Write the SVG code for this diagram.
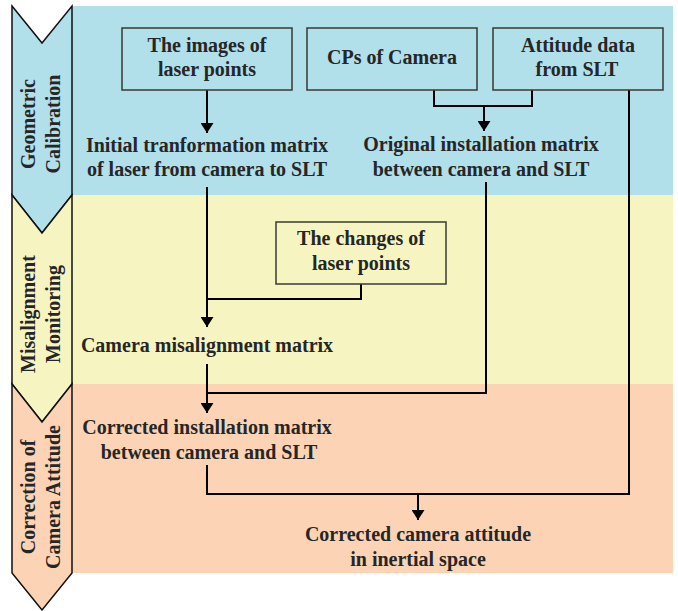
<svg xmlns="http://www.w3.org/2000/svg" width="678" height="611" viewBox="0 0 678 611">
<style>
.t{font-family:"Liberation Serif","Times New Roman",serif;font-weight:bold;font-size:20px;fill:#262626;text-anchor:middle}
.box{stroke:#3a3a32;stroke-width:1.5}
.chev{stroke:#111;stroke-width:1.5;stroke-linejoin:miter}
.c{fill:none;stroke:#000;stroke-width:2}
.blue{fill:#b1dfea}.yel{fill:#f6f5c2}.org{fill:#fcd4b5}
</style>
<defs>
<marker id="arr" markerUnits="userSpaceOnUse" viewBox="0 0 10 13" refX="10" refY="6.5" markerWidth="10" markerHeight="13" orient="auto">
<path d="M0,0 L10,6.5 L0,13 z" fill="#000"/>
</marker>
</defs>
<g id="bands">
<rect class="blue" x="72" y="6" width="601" height="189"/>
<rect class="yel" x="72" y="195" width="601" height="189"/>
<rect class="org" x="72" y="384" width="601" height="189"/>
</g>
<g id="stage-geometric">
<polygon class="chev blue" points="12,6 42,43 72,6 72,195 42,233 12,195"/>
<text class="t" transform="translate(35,124) rotate(-90)">Geometric</text>
<text class="t" transform="translate(60,124) rotate(-90)">Calibration</text>
</g>
<g id="stage-misalignment">
<polygon class="chev yel" points="12,195 42,233 72,195 72,384 42,422 12,384"/>
<text class="t" transform="translate(35,314) rotate(-90)">Misalignment</text>
<text class="t" transform="translate(60,314) rotate(-90)">Monitoring</text>
</g>
<g id="stage-correction">
<polygon class="chev org" points="12,384 42,422 72,384 72,573 42,610 12,573"/>
<text class="t" transform="translate(35,497) rotate(-90)">Correction of</text>
<text class="t" transform="translate(60,497) rotate(-90)">Camera Attitude</text>
</g>
<g id="connectors">
<path class="c" d="M207,90 V133" marker-end="url(#arr)"/>
<path class="c" d="M434,90 V106 H532 V90"/>
<path class="c" d="M484,106 V131" marker-end="url(#arr)"/>
<path class="c" d="M207,187 V327" marker-end="url(#arr)"/>
<path class="c" d="M361,284 V299 H207"/>
<path class="c" d="M207,364 V413" marker-end="url(#arr)"/>
<path class="c" d="M486,182 V393 H207"/>
<path class="c" d="M207,465 V494 H629 V90"/>
<path class="c" d="M418,494 V520" marker-end="url(#arr)"/>
</g>
<g id="images-of-laser-points">
<rect class="box" x="122" y="28" width="170" height="62" fill="none"/>
<text class="t" x="207" y="52">The images of</text>
<text class="t" x="207" y="76">laser points</text>
</g>
<g id="cps-of-camera">
<rect class="box" x="307" y="28" width="170" height="62" fill="none"/>
<text class="t" x="392" y="64">CPs of Camera</text>
</g>
<g id="attitude-data">
<rect class="box" x="493" y="28" width="170" height="62" fill="none"/>
<text class="t" x="578" y="52">Attitude data</text>
<text class="t" x="577" y="76">from SLT</text>
</g>
<g id="initial-matrix">
<text class="t" x="207" y="152">Initial tranformation matrix</text>
<text class="t" x="207" y="176">of laser from camera to SLT</text>
</g>
<g id="original-matrix">
<text class="t" x="481" y="151">Original installation matrix</text>
<text class="t" x="481" y="176">between camera and SLT</text>
</g>
<g id="changes-of-laser-points">
<rect class="box" x="276" y="222" width="170" height="62" fill="none"/>
<text class="t" x="361" y="245">The changes of</text>
<text class="t" x="361" y="270">laser points</text>
</g>
<g id="misalignment-matrix">
<text class="t" x="207" y="352">Camera misalignment matrix</text>
</g>
<g id="corrected-matrix">
<text class="t" x="207" y="434">Corrected installation matrix</text>
<text class="t" x="209" y="459">between camera and SLT</text>
</g>
<g id="corrected-attitude">
<text class="t" x="418" y="541">Corrected camera attitude</text>
<text class="t" x="418" y="566">in inertial space</text>
</g>
</svg>
